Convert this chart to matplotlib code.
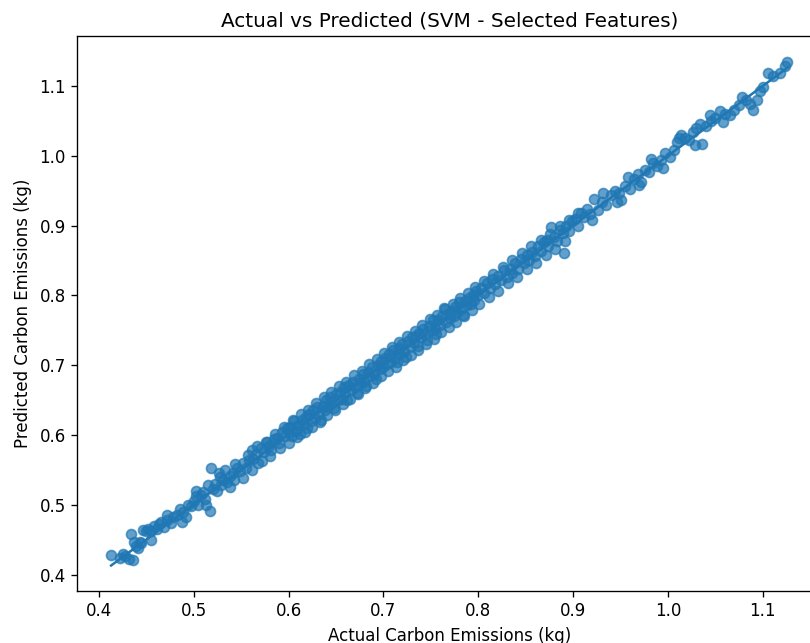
import matplotlib
matplotlib.use('Agg')
from matplotlib import pyplot as plt


# values (actual, predicted)

actual = [
    0.413, 0.422, 0.425, 0.428, 0.432, 0.434, 0.436, 0.437, 0.439, 0.441,
    0.443, 0.445, 0.447, 0.450, 0.452, 0.455, 0.458, 0.461, 0.464, 0.466,
    0.469, 0.472, 0.476, 0.478, 0.482, 0.486, 0.489, 0.492, 0.494, 0.497,
    0.500, 0.503, 0.505, 0.508, 0.510, 0.512, 0.515, 0.517, 0.518, 0.520,
    0.522, 0.525, 0.527, 0.529, 0.531, 0.533, 0.535, 0.538, 0.541, 0.543,
    0.546, 0.549, 0.552, 0.555, 0.558, 0.561, 0.563, 0.566, 0.568, 0.571,
    0.574, 0.577, 0.579, 0.582, 0.585, 0.588, 0.590, 0.593, 0.596, 0.598,
    0.600, 0.602, 0.604, 0.606, 0.608, 0.610, 0.612, 0.614, 0.616, 0.618,
    0.620, 0.622, 0.624, 0.626, 0.628, 0.630, 0.632, 0.634, 0.636, 0.638,
    0.640, 0.642, 0.644, 0.646, 0.648, 0.650, 0.652, 0.654, 0.656, 0.658,
    0.660, 0.662, 0.664, 0.666, 0.668, 0.670, 0.672, 0.674, 0.676, 0.678,
    0.680, 0.682, 0.684, 0.686, 0.688, 0.690, 0.692, 0.694, 0.696, 0.698,
    0.700, 0.702, 0.704, 0.706, 0.708, 0.710, 0.712, 0.714, 0.716, 0.718,
    0.720, 0.722, 0.724, 0.726, 0.728, 0.730, 0.732, 0.734, 0.736, 0.738,
    0.740, 0.742, 0.744, 0.746, 0.748, 0.750, 0.752, 0.754, 0.756, 0.758,
    0.760, 0.762, 0.764, 0.766, 0.768, 0.770, 0.772, 0.774, 0.776, 0.778,
    0.780, 0.782, 0.784, 0.786, 0.788, 0.790, 0.792, 0.794, 0.796, 0.798,
    0.800, 0.803, 0.806, 0.809, 0.812, 0.815, 0.818, 0.821, 0.824, 0.827,
    0.830, 0.833, 0.836, 0.839, 0.842, 0.845, 0.848, 0.851, 0.854, 0.857,
    0.860, 0.863, 0.866, 0.869, 0.872, 0.874, 0.877, 0.880, 0.883, 0.886,
    0.889, 0.890, 0.893, 0.896, 0.899,
    0.902, 0.905, 0.908, 0.912, 0.915, 0.918, 0.922, 0.926, 0.930, 0.935,
    0.940, 0.944, 0.948, 0.951, 0.955, 0.960, 0.964, 0.968, 0.972, 0.976,
    0.980, 0.984, 0.988, 0.993, 0.997,
    1.002, 1.006, 1.010, 1.014, 1.018, 1.022, 1.026, 1.030, 1.034, 1.036,
    1.040, 1.045, 1.050, 1.055, 1.060, 1.065, 1.070, 1.075, 1.078, 1.082,
    1.086, 1.090, 1.094, 1.097, 1.100, 1.105, 1.111, 1.118, 1.123, 1.126,
    # second pass over the thicker part of the band
    0.455, 0.472, 0.488, 0.503, 0.513, 0.528, 0.538, 0.544,
    0.552, 0.557, 0.562, 0.567, 0.572, 0.576, 0.581, 0.586, 0.591, 0.595,
    0.601, 0.605, 0.609, 0.613, 0.617, 0.621, 0.625, 0.629, 0.633, 0.637,
    0.641, 0.645, 0.649, 0.653, 0.657, 0.661, 0.665, 0.669, 0.673, 0.677,
    0.681, 0.685, 0.689, 0.693, 0.697, 0.701, 0.705, 0.709, 0.713, 0.717,
    0.721, 0.725, 0.729, 0.733, 0.737, 0.741, 0.745, 0.749, 0.753, 0.757,
    0.761, 0.765, 0.769, 0.773, 0.777, 0.781, 0.785, 0.789, 0.793, 0.797,
    0.801, 0.806, 0.811, 0.816, 0.821, 0.826, 0.831, 0.836, 0.841, 0.846,
    0.851, 0.856, 0.861, 0.866, 0.871, 0.876, 0.881, 0.886, 0.891, 0.896,
    0.905, 0.920, 0.932, 0.946, 0.958, 0.970, 0.982, 0.995, 1.012, 1.028,
    1.044, 1.058,
]

predicted = [
    0.428, 0.424, 0.430, 0.426, 0.422, 0.458, 0.421, 0.447, 0.441, 0.438,
    0.446, 0.445, 0.464, 0.462, 0.466, 0.463, 0.470, 0.466, 0.472, 0.476,
    0.468, 0.478, 0.474, 0.482, 0.486, 0.494, 0.490, 0.482, 0.500, 0.498,
    0.506, 0.512, 0.500, 0.514, 0.518, 0.508, 0.529, 0.491, 0.553, 0.523,
    0.530, 0.520, 0.545, 0.528, 0.536, 0.550, 0.532, 0.541, 0.545, 0.536,
    0.552, 0.548, 0.560, 0.552, 0.564, 0.578, 0.566, 0.573, 0.560, 0.582,
    0.576, 0.590, 0.584, 0.578, 0.594, 0.596, 0.588, 0.604, 0.598, 0.610,
    0.604, 0.612, 0.598, 0.620, 0.606, 0.614, 0.602, 0.622, 0.616, 0.626,
    0.610, 0.630, 0.620, 0.636, 0.624, 0.640, 0.630, 0.622, 0.642, 0.636,
    0.650, 0.640, 0.654, 0.646, 0.638, 0.658, 0.650, 0.662, 0.652, 0.668,
    0.660, 0.650, 0.672, 0.664, 0.676, 0.668, 0.660, 0.680, 0.674, 0.688,
    0.678, 0.670, 0.690, 0.684, 0.698, 0.688, 0.680, 0.700, 0.694, 0.706,
    0.698, 0.710, 0.702, 0.716, 0.704, 0.722, 0.712, 0.704, 0.724, 0.716,
    0.730, 0.720, 0.712, 0.734, 0.726, 0.740, 0.732, 0.742, 0.728, 0.746,
    0.740, 0.752, 0.744, 0.736, 0.756, 0.750, 0.764, 0.752, 0.744, 0.764,
    0.758, 0.770, 0.782, 0.762, 0.774, 0.768, 0.778, 0.770, 0.784, 0.776,
    0.790, 0.780, 0.772, 0.792, 0.786, 0.796, 0.788, 0.800, 0.794, 0.806,
    0.800, 0.810, 0.804, 0.818, 0.810, 0.824, 0.816, 0.828, 0.822, 0.836,
    0.826, 0.838, 0.832, 0.846, 0.838, 0.852, 0.846, 0.858, 0.850, 0.862,
    0.856, 0.870, 0.864, 0.876, 0.880, 0.870, 0.898, 0.884, 0.878, 0.894,
    0.890, 0.860, 0.900, 0.892, 0.906,
    0.910, 0.900, 0.918, 0.912, 0.924, 0.916, 0.938, 0.922, 0.934, 0.930,
    0.944, 0.950, 0.946, 0.936, 0.956, 0.952, 0.966, 0.974, 0.962, 0.980,
    0.976, 0.990, 0.986, 0.994, 1.004,
    0.998, 1.008, 1.020, 1.030, 1.026, 1.022, 1.034, 1.040, 1.046, 1.017,
    1.042, 1.050, 1.054, 1.064, 1.060, 1.058, 1.066, 1.072, 1.084, 1.080,
    1.074, 1.066, 1.080, 1.093, 1.098, 1.119, 1.114, 1.118, 1.128, 1.135,
    # second pass over the thicker part of the band
    0.450, 0.486, 0.476, 0.520, 0.500, 0.540, 0.526, 0.558,
    0.538, 0.572, 0.550, 0.584, 0.562, 0.590, 0.570, 0.602, 0.582, 0.612,
    0.588, 0.621, 0.597, 0.630, 0.604, 0.636, 0.612, 0.646, 0.619, 0.654,
    0.628, 0.661, 0.636, 0.670, 0.644, 0.676, 0.651, 0.686, 0.659, 0.692,
    0.667, 0.702, 0.674, 0.709, 0.684, 0.718, 0.691, 0.726, 0.698, 0.733,
    0.707, 0.742, 0.714, 0.749, 0.722, 0.758, 0.731, 0.766, 0.738, 0.772,
    0.747, 0.780, 0.755, 0.788, 0.762, 0.796, 0.771, 0.804, 0.779, 0.812,
    0.788, 0.820, 0.797, 0.830, 0.806, 0.840, 0.817, 0.850, 0.827, 0.860,
    0.838, 0.870, 0.847, 0.880, 0.858, 0.888, 0.867, 0.900, 0.878, 0.908,
    0.918, 0.908, 0.946, 0.934, 0.970, 0.958, 0.996, 0.982, 1.026, 1.016,
    1.058, 1.048,
]


#initialize figure (axes runs past the right edge like in the reference)

fig = plt.figure(figsize=(810 / 120, 643 / 120), dpi=120)
ax = fig.add_axes([77.3 / 810, 52.3 / 643, 744 / 810, 554.4 / 643])


#scatter of predictions plus the identity line

ax.scatter(actual, predicted, alpha=0.7)
ax.plot([min(actual), max(actual)], [min(actual), max(actual)])


#labels and title

ax.set_xlabel('Actual Carbon Emissions (kg)')
ax.set_ylabel('Predicted Carbon Emissions (kg)')
ax.set_title('Actual vs Predicted (SVM - Selected Features)')

fig.savefig('out.png', dpi=120)
